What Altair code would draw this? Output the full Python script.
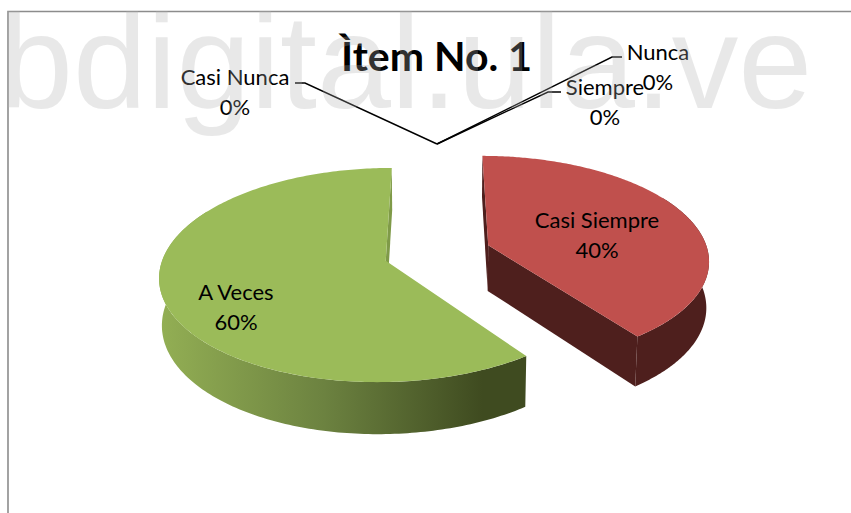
import altair as alt
import numpy as np
import pandas as pd

# Survey shares for the item, in the order the pie is swept clockwise from the back
categories = ["Siempre", "Casi Siempre", "A Veces", "Casi Nunca", "Nunca"]
shares = [0, 40, 60, 0, 0]

chart_title = "Ìtem No. 1"
site_mark = "bdigital.ula.ve"

W, H_PX = 851, 513
FONT = "Lato"

# Camera of the 3D pie
GX, GY = 437.5, 253.0
RX, RY = 220.8, 103.1
PERSP, YAW, DEPTH_PERSP, DEPTH, DEPTH_SHIFT = 0.131, 0.002, 0.01, 46.5, 0.0
EXPLODE = 0.244

# Where each category's label sits: centre x and first baseline
label_at = {
    "Siempre": (605, 95),
    "Casi Siempre": (597, 228),
    "A Veces": (236, 300),
    "Casi Nunca": (235, 85),
    "Nunca": (658, 60),
}
# Leader lines of the empty categories
LEADER_HUB = (437, 144)
leader_elbow = {
    "Siempre": [(548, 92), (561, 92)],
    "Casi Nunca": [(305, 83), (295, 83)],
    "Nunca": [(612, 57), (622, 57)],
}

x_scale = alt.Scale(domain=[0, W], range=[0, W])
y_scale = alt.Scale(domain=[H_PX, 0], range=[H_PX, 0])


def project(u, v, z=0.0):
    w = 1 + PERSP * v + YAW * u + DEPTH_PERSP * z
    return GX + RX * u / w + DEPTH_SHIFT * z, GY + (-RY * v + DEPTH * z) / w


def rim(off, angles, z=0.0):
    a = np.radians(angles)
    return project(off[0] + np.sin(a), off[1] + np.cos(a), z)


def polygon(xs, ys, **mark):
    frame = pd.DataFrame({"x": xs, "y": ys, "i": range(len(xs))})
    return (
        alt.Chart(frame)
        .mark_line(strokeWidth=0, clip=False, **mark)
        .encode(
            x=alt.X("x:Q", scale=x_scale, axis=None),
            y=alt.Y("y:Q", scale=y_scale, axis=None),
            order=alt.Order("i:Q"),
        )
    )


def wedge_layers(start, end, top, cut, cut_angles, side):
    mid = np.radians((start + end) / 2)
    off = (EXPLODE * np.sin(mid), EXPLODE * np.cos(mid))
    layers = []
    for angle in cut_angles:
        ax0, ay0 = project(off[0], off[1], 0)
        ax1, ay1 = project(off[0], off[1], 1)
        rx0, ry0 = rim(off, np.array([angle]), 0)
        rx1, ry1 = rim(off, np.array([angle]), 1)
        layers.append(
            polygon([ax0, rx0[0], rx1[0], ax1, ax0], [ay0, ry0[0], ry1[0], ay1, ay0], fill=cut)
        )
    # Only the front of the outer wall can be seen
    lo, hi = max(start, 60), min(end, 300)
    sweep = np.linspace(lo, hi, 160)
    tx, ty = rim(off, sweep, 0)
    bx, by = rim(off, sweep, 1)
    layers.append(
        polygon(
            np.r_[tx, bx[::-1], tx[:1]],
            np.r_[ty, by[::-1], ty[:1]],
            fill=side,
        )
    )
    sweep = np.linspace(start, end, 240)
    tx, ty = rim(off, sweep, 0)
    ax, ay = project(off[0], off[1], 0)
    layers.append(polygon(np.r_[ax, tx, ax], np.r_[ay, ty, ay], fill=top))
    return layers


green_wall = alt.Gradient(
    gradient="linear",
    x1=0, x2=1, y1=0, y2=0,
    stops=[
        alt.GradientStop(offset=0.0, color="#93AF54"),
        alt.GradientStop(offset=0.45, color="#6C8240"),
        alt.GradientStop(offset=0.88, color="#3F4B20"),
        alt.GradientStop(offset=1.0, color="#3F4B20"),
    ],
)

layers = []
styles = {
    "A Veces": dict(top="#9BBB59", cut="#7F9A48", which="end", side=green_wall),
    "Casi Siempre": dict(top="#C0504D", cut="#4E1F1D", which="both", side="#4E1F1D"),
}
total = sum(shares)
angle = 0.0
spans = {}
for name, share in zip(categories, shares):
    spans[name] = (angle, angle + 360 * share / total)
    angle = spans[name][1]

for name in ["A Veces", "Casi Siempre"]:
    s, e = spans[name]
    st = styles[name]
    cuts = [e] if st["which"] == "end" else [s, e]
    layers += wedge_layers(s, e, st["top"], st["cut"], cuts, st["side"])

# Frame of the chart area
frame_lines = pd.DataFrame({"x": [8, 8, W], "y": [H_PX, 11.5, 11.5], "i": [0, 1, 2]})
frame_chart = (
    alt.Chart(frame_lines)
    .mark_line(color="#8C8C8C", strokeWidth=1.6)
    .encode(
        x=alt.X("x:Q", scale=x_scale, axis=None),
        y=alt.Y("y:Q", scale=y_scale, axis=None),
        order=alt.Order("i:Q"),
    )
)

# Leader lines
leader_rows = []
for name, pts in leader_elbow.items():
    for i, (px, py) in enumerate([LEADER_HUB] + pts):
        leader_rows.append({"name": name, "x": px, "y": py, "i": i})
leaders = (
    alt.Chart(pd.DataFrame(leader_rows))
    .mark_line(color="#000000", strokeWidth=1.4)
    .encode(
        x=alt.X("x:Q", scale=x_scale, axis=None),
        y=alt.Y("y:Q", scale=y_scale, axis=None),
        detail="name:N",
        order=alt.Order("i:Q"),
    )
)

# Category and percentage labels
label_rows = []
for name, share in zip(categories, shares):
    cx, cy = label_at[name]
    label_rows.append({"t": name, "x": cx, "y": cy})
    label_rows.append({"t": f"{share}%", "x": cx, "y": cy + 29.5})
labels = (
    alt.Chart(pd.DataFrame(label_rows))
    .mark_text(font=FONT, fontSize=22, color="#000000", align="center", baseline="alphabetic")
    .encode(
        x=alt.X("x:Q", scale=x_scale, axis=None),
        y=alt.Y("y:Q", scale=y_scale, axis=None),
        text="t:N",
    )
)

title_text = (
    alt.Chart(pd.DataFrame({"t": [chart_title], "x": [436.5], "y": [71]}))
    .mark_text(font=FONT, fontSize=41, fontWeight="bold", color="#000000",
               align="center", baseline="alphabetic")
    .encode(
        x=alt.X("x:Q", scale=x_scale, axis=None),
        y=alt.Y("y:Q", scale=y_scale, axis=None),
        text="t:N",
    )
)

# Translucent site name stamped over everything
stamp = (
    alt.Chart(pd.DataFrame({"t": [site_mark], "x": [-1], "y": [108]}))
    .mark_text(font="Liberation Sans", fontSize=133, color="#B0B0B0", opacity=0.28,
               align="left", baseline="alphabetic")
    .encode(
        x=alt.X("x:Q", scale=x_scale, axis=None),
        y=alt.Y("y:Q", scale=y_scale, axis=None),
        text="t:N",
    )
)

chart = (
    alt.layer(frame_chart, *layers, leaders, labels, title_text, stamp)
    .properties(width=W, height=H_PX, padding=0, background="#FFFFFF", autosize=alt.AutoSizeParams(type="none"))
    .configure_view(stroke=None)
)

chart.save("out.html", embed_options={"renderer": "svg", "actions": False})
